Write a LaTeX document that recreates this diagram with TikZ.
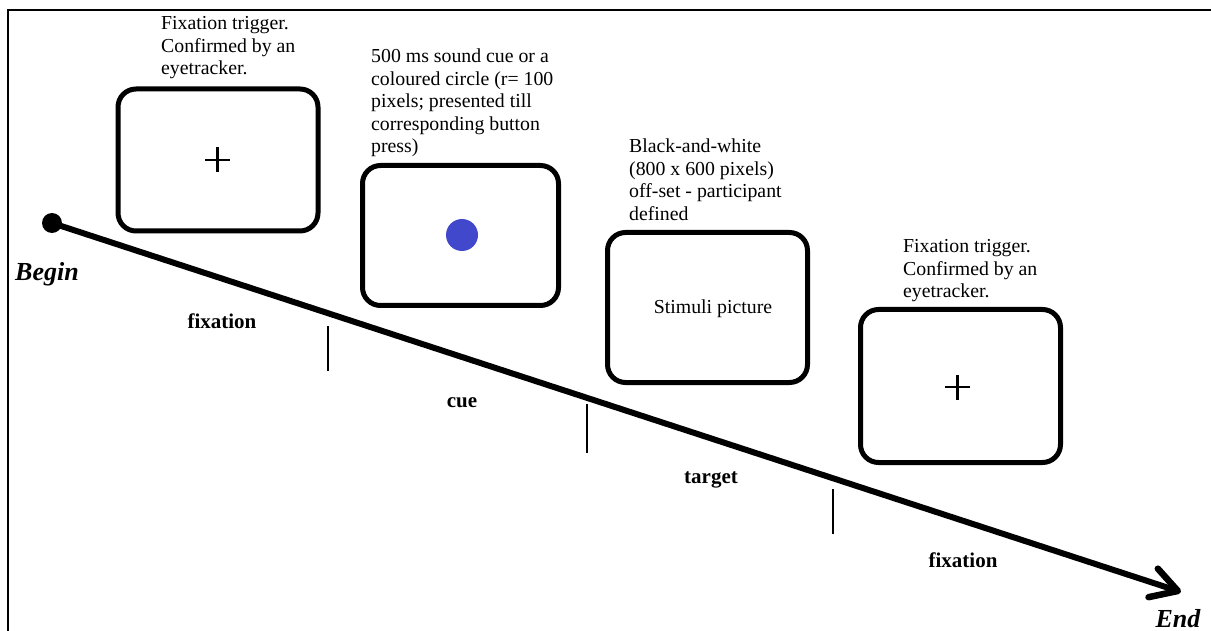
\documentclass[tikz,border=0pt]{standalone}
\usepackage{fontspec}
\setmainfont{Liberation Serif}
\usetikzlibrary{arrows.meta}
\definecolor{cuedot}{RGB}{66,72,204}
\begin{document}
\begin{tikzpicture}[x=1pt,y=-1pt,
  screen/.style={draw, line width=5pt, rounded corners=18pt, inner sep=0pt},
  note/.style={anchor=base west, align=left, inner sep=0pt,
               font=\fontsize{19.8}{22.5}\selectfont},
  phase/.style={anchor=base, inner sep=0pt,
                font=\fontsize{21}{24}\selectfont\bfseries},
  ends/.style={inner sep=0pt, font=\fontsize{26}{30}\selectfont\bfseries\itshape},
  tickmark/.style={line width=2.5pt},
  cross/.style={line width=2.5pt},
  timeline/.style={line width=6pt, line cap=round,
    -{Straight Barb[length=26pt,width=30pt,line width=6.5pt,round]}}]
\useasboundingbox (0,0) rectangle (1211,631);

% frame
\draw[line width=2pt] (8,631) -- (8,10) -- (1211,10);

% screens
\node[screen, minimum width=200pt, minimum height=142pt] (s1) at (218,160) {};
\node[screen, minimum width=196pt, minimum height=140pt] (s2) at (460.5,235.5) {};
\node[screen, minimum width=200pt, minimum height=150pt] (s3) at (707.5,307.5) {};
\node[screen, minimum width=200pt, minimum height=153pt] (s4) at (960.5,386) {};

% screen contents
\draw[cross] (205,160) -- (230,160) (217.5,147.5) -- (217.5,172.5);
\node[circle, fill=cuedot, minimum size=32pt, inner sep=0pt] (dot) at (462,235) {};
\node[anchor=base, inner sep=0pt, font=\fontsize{19.8}{22.5}\selectfont] (stim) at (713,313) {Stimuli picture};
\draw[cross] (945,387) -- (970,387) (957.5,374.5) -- (957.5,399.5);

% descriptions (anchored at the baseline of their last line)
\node[note] (n1) at (161,75) {Fixation trigger.\\Confirmed by an\\eyetracker.};
\node[note] (n2) at (371,153) {500 ms sound cue or a\\coloured circle (r= 100\\pixels; presented till\\corresponding button\\press)};
\node[note] (n3) at (629,220.5) {Black-and-white\\(800 x 600 pixels)\\off-set - participant\\defined};
\node[note] (n4) at (903,298) {Fixation trigger.\\Confirmed by an\\eyetracker.};

% time line
\node[circle, fill=black, minimum size=20pt, inner sep=0pt] (start) at (52,223) {};
\coordinate (finish) at (1181,592);
\draw[timeline] (start.center) -- (finish);

% phase boundaries
\draw[tickmark] (328,326) -- (328,371);
\draw[tickmark] (587,404) -- (587,453);
\draw[tickmark] (833,489) -- (833,534);

% labels
\node[ends, anchor=base west] (begin) at (15,280) {Begin};
\node[ends, anchor=base] (end) at (1178,627) {End};
\node[phase] (p1) at (222,328) {fixation};
\node[phase] (p2) at (462,407) {cue};
\node[phase] (p3) at (711,483) {target};
\node[phase] (p4) at (963,567) {fixation};
\end{tikzpicture}
\end{document}
